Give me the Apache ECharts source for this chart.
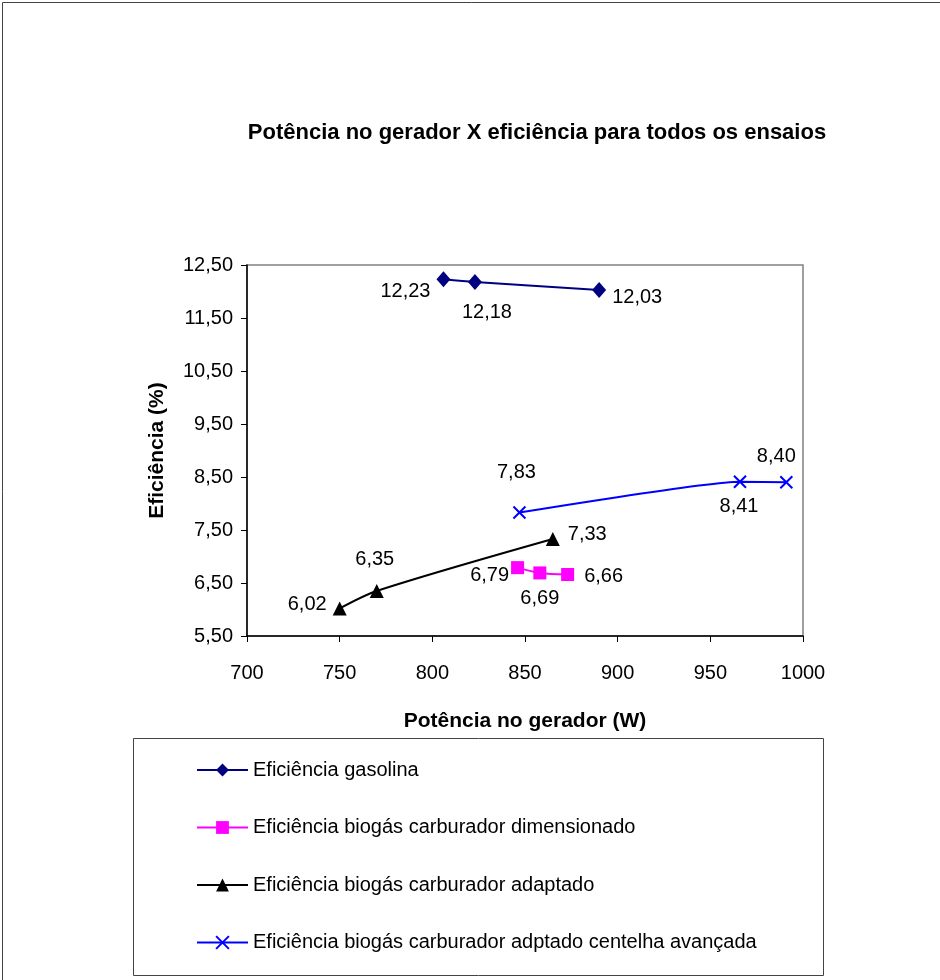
<!DOCTYPE html>
<html>
<head>
<meta charset="utf-8">
<script src="https://cdn.jsdelivr.net/npm/echarts@6/dist/echarts.min.js"></script>
<style>
  html, body { margin: 0; padding: 0; background: #fff; }
  #chart { width: 940px; height: 980px; }
</style>
</head>
<body>
<div id="chart"></div>
<script>
// Potência no gerador (W) e eficiência (%) de cada ensaio
const gasolinaPot = [806, 823, 890];
const gasolinaEf = [12.23, 12.18, 12.03];

const dimensionadoPot = [846, 858, 873];
const dimensionadoEf = [6.79, 6.69, 6.66];

const adaptadoPot = [750, 770, 865];
const adaptadoEf = [6.02, 6.35, 7.33];

const avancadaPot = [847, 966, 991];
const avancadaEf = [7.83, 8.41, 8.40];

const seriesNames = [
  'Eficiência gasolina',
  'Eficiência biogás carburador dimensionado',
  'Eficiência biogás carburador adaptado',
  'Eficiência biogás carburador adptado centelha avançada'
];

// where each value label sits relative to its point: [position, offsetX, offsetY]
const gasolinaLabelPos = [['left', 0, 12], ['bottom', 12, 7], ['right', 0, 8]];
const dimensionadoLabelPos = [['left', 4, 8], ['bottom', 0, 3], ['right', 4, 2]];
const adaptadoLabelPos = [['left', 0, -4], ['top', -2, -8], ['right', 2, -5]];
const avancadaLabelPos = [['top', -3, -16], ['bottom', -1, 0], ['top', -10, -1]];

const fmt = v => v.toFixed(2).replace('.', ',');
const baseFont = 'Liberation Sans, Arial, sans-serif';

function points(xs, ys, placements) {
  return xs.map((x, i) => ({
    value: [x, ys[i]],
    label: {
      position: placements[i][0],
      offset: [placements[i][1], placements[i][2]]
    }
  }));
}

function makeSeries(name, xs, ys, placements, color, symbol, symbolSize, smooth, itemStyle) {
  return {
    name: name,
    type: 'line',
    data: points(xs, ys, placements),
    smooth: smooth,
    symbol: symbol,
    symbolSize: symbolSize,
    showAllSymbol: true,
    lineStyle: { color: color, width: 2 },
    itemStyle: itemStyle || { color: color },
    label: {
      show: true,
      formatter: p => fmt(p.value[1]),
      fontFamily: baseFont,
      fontSize: 20,
      color: '#000',
      distance: 6
    },
    emphasis: { disabled: true },
    z: 3
  };
}

const crossPath = 'path://M0,0 L10,10 M10,0 L0,10';

const chart = echarts.init(document.getElementById('chart'), null, { renderer: 'canvas' });
chart.setOption({
  backgroundColor: '#fff',
  animation: false,
  title: {
    text: 'Potência no gerador X eficiência para todos os ensaios',
    left: 532,
    top: 117,
    textAlign: 'center',
    textStyle: { fontFamily: baseFont, fontSize: 22, fontWeight: 'bold', color: '#000' }
  },
  graphic: [
    {
      type: 'rect', left: 0, top: 0, silent: true,
      shape: { x: 0.5, y: 0.5, width: 939, height: 979 },
      style: { fill: 'none', stroke: '#444', lineWidth: 1 }
    },
    {
      type: 'rect', silent: true,
      shape: { x: 133.5, y: 738.5, width: 690, height: 237 },
      style: { fill: 'none', stroke: '#444', lineWidth: 1 },
      z: 0
    }
  ],
  legend: {
    orient: 'vertical',
    left: 191,
    top: 755,
    itemWidth: 51,
    itemHeight: 16,
    itemGap: 37.5,
    data: seriesNames,
    textStyle: { fontFamily: baseFont, fontSize: 20, color: '#000', padding: [0, 0, 0, 0] }
  },
  grid: {
    left: 247,
    right: 137,
    top: 265,
    bottom: 344,
    show: true,
    borderColor: '#808080',
    borderWidth: 1.5,
    backgroundColor: 'transparent'
  },
  xAxis: {
    type: 'value',
    min: 700,
    max: 1000,
    interval: 50,
    name: 'Potência no gerador (W)',
    nameLocation: 'middle',
    nameGap: 75,
    nameTextStyle: { fontFamily: baseFont, fontSize: 21, fontWeight: 'bold', color: '#000' },
    axisLine: { show: true, lineStyle: { color: '#000', width: 1.5 } },
    axisTick: { show: true, length: 6, inside: false, lineStyle: { color: '#000' } },
    axisLabel: { fontFamily: baseFont, fontSize: 20, color: '#000', margin: 27, formatter: v => String(v) },
    splitLine: { show: false }
  },
  yAxis: {
    type: 'value',
    min: 5.5,
    max: 12.5,
    interval: 1,
    name: 'Eficiência (%)',
    nameLocation: 'middle',
    nameGap: 79,
    nameRotate: 90,
    nameTextStyle: { fontFamily: baseFont, fontSize: 21, fontWeight: 'bold', color: '#000' },
    axisLine: { show: true, lineStyle: { color: '#000', width: 1.5 } },
    axisTick: { show: true, length: 6, inside: false, lineStyle: { color: '#000' } },
    axisLabel: { fontFamily: baseFont, fontSize: 20, color: '#000', margin: 14, formatter: v => fmt(v) },
    splitLine: { show: false }
  },
  series: [
    makeSeries(seriesNames[0], gasolinaPot, gasolinaEf, gasolinaLabelPos, '#000080', 'diamond', [14, 16], 0.3),
    makeSeries(seriesNames[1], dimensionadoPot, dimensionadoEf, dimensionadoLabelPos, '#FF00FF', 'rect', 13, 0.3),
    makeSeries(seriesNames[2], adaptadoPot, adaptadoEf, adaptadoLabelPos, '#000000', 'triangle', 14, 0.3),
    makeSeries(seriesNames[3], avancadaPot, avancadaEf, avancadaLabelPos, '#0000FF', crossPath, 12, 0.15,
      { color: 'none', borderColor: '#0000FF', borderWidth: 2 })
  ]
});
</script>
</body>
</html>
